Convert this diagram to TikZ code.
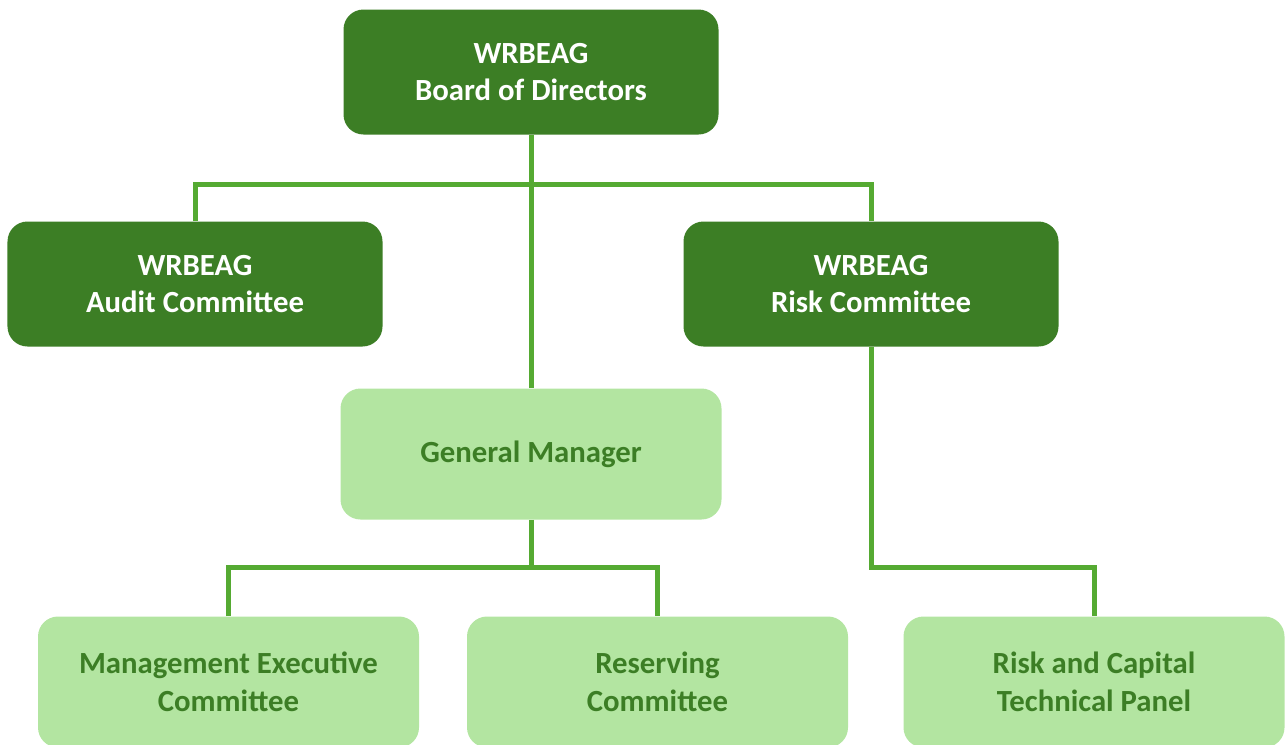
\documentclass[tikz,border=0pt]{standalone}
\usepackage{fontspec}
\setmainfont{Carlito}
\definecolor{darkbox}{HTML}{3C7E25}
\definecolor{lightbox}{HTML}{B3E5A1}
\definecolor{linkgreen}{HTML}{55AA32}
\tikzset{
  board/.style={draw=none, fill=darkbox, rounded corners=0.4cm, text=white,
    font=\fontsize{17.5}{21.5}\selectfont\bfseries, align=center,
    minimum width=7.5cm, minimum height=2.5cm},
  staff/.style={draw=none, fill=lightbox, rounded corners=0.4cm, text=darkbox,
    font=\fontsize{17.5}{21.5}\selectfont\bfseries, align=center,
    minimum width=7.62cm, minimum height=2.62cm},
  link/.style={draw=linkgreen, line width=0.1cm}
}
\begin{document}
\begin{tikzpicture}
    \useasboundingbox (0,0) rectangle (25.7,-14.88);

    \node[board] (bod) at (10.62,-1.44) {WRBEAG\\Board of Directors};
    \node[board] (audit) at (3.9,-5.68) {WRBEAG\\Audit Committee};
    \node[board] (risk) at (17.42,-5.68) {WRBEAG\\Risk Committee};
    \node[staff] (gm) at (10.62,-9.08) {General Manager};
    \node[staff] (mec) at (4.57,-13.64) {Management Executive\\Committee};
    \node[staff] (resv) at (13.15,-13.64) {Reserving\\Committee};
    \node[staff] (rctp) at (21.88,-13.64) {Risk and Capital\\Technical Panel};

    \coordinate (topbar) at (0,-3.68);
    \coordinate (lowbar) at (0,-11.34);

    \draw[link] (bod.south) -- (gm.north);
    \draw[link] (audit.north) |- (topbar -| bod.south) -| (risk.north);
    \draw[link] (gm.south) -- (lowbar -| gm.south);
    \draw[link] (mec.north) |- (lowbar -| gm.south) -| (resv.north);
    \draw[link] (risk.south) |- (lowbar -| risk.south) -| (rctp.north);
  \end{tikzpicture}
\end{document}
